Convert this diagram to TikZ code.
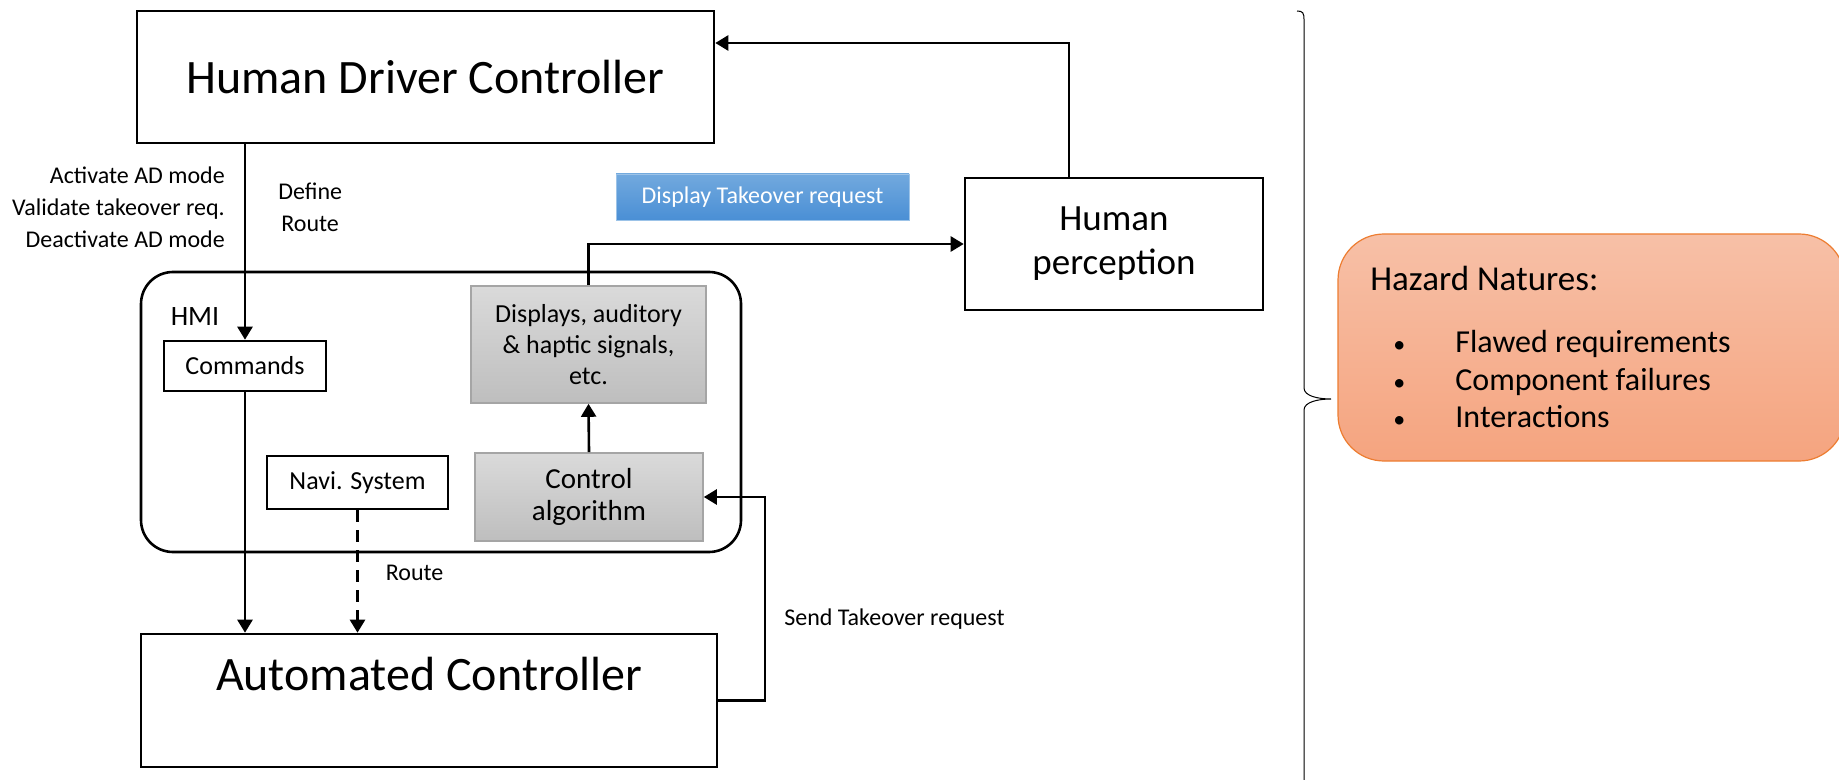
\documentclass[tikz,border=0pt]{standalone}
\usepackage{fontspec}
\setmainfont{Carlito}
\usetikzlibrary{arrows.meta,positioning}
\definecolor{c0}{HTML}{DADADA}
\definecolor{c1}{HTML}{BEBEBE}
\definecolor{c2}{HTML}{A5A5A5}
\definecolor{c3}{HTML}{72A9DE}
\definecolor{c4}{HTML}{4A8FD5}
\definecolor{c5}{HTML}{F7C0A7}
\definecolor{c6}{HTML}{F5A47F}
\definecolor{c7}{HTML}{ED7D31}
\newcommand\hzbul{\makebox[31pt][l]{\fontsize{12}{14}\selectfont\textbullet}}
\tikzset{%
  blk/.style={draw,line width=1.3pt,fill=white,inner sep=0pt,align=center},
  gry/.style={draw=c2,line width=0.8pt,top color=c0,bottom color=c1,inner sep=0pt,align=center},
  flow/.style={line width=1.3pt,-{Triangle[length=6.5pt,width=7.5pt]}},
  lbl/.style={inner sep=0pt,font=\fontsize{12}{16}\selectfont},
  hzt/.style={inner sep=0pt,font=\fontsize{16}{19}\selectfont}
}
\begin{document}
\begin{tikzpicture}[x=0.5pt,y=-0.5pt]
  \path[use as bounding box] (0,0) rectangle (1839,780);
  \clip (0,0) rectangle (1839,780);
  %
  \node[blk,minimum width=288.5pt,minimum height=66pt,font=\fontsize{24}{29}\selectfont] (hdc) at (425.5,77) {Human Driver Controller};
  \node[blk,minimum width=149pt,minimum height=66pt,font=\fontsize{18.5}{22}\selectfont] (hp) at (1114,244) {Human\\perception};
  %% HMI
  \node[blk,rounded corners=16pt,minimum width=300pt,minimum height=140pt] (hmi) at (441,412) {};
  \node[inner sep=0pt,font=\fontsize{14}{17}\selectfont] (hmilbl) at (195,317) {HMI};
  \node[blk,minimum width=81pt,minimum height=25pt,font=\fontsize{13}{16}\selectfont] (cmd) at (245,366) {Commands};
  \node[blk,minimum width=90.5pt,minimum height=26.5pt,font=\fontsize{13}{16}\selectfont] (navi) at (357.5,482.5) {Navi. System};
  \node[gry,minimum width=117.5pt,minimum height=58.5pt,font=\fontsize{13}{15.5}\selectfont] (disp) at (588.5,344.5) {Displays, auditory\\\& haptic signals,\\etc.};
  \node[gry,minimum width=114pt,minimum height=44pt,font=\fontsize{14.5}{16}\selectfont] (ctrl) at (589,497) {Control\\algorithm};
  %% Automated controller
  \node[blk,minimum width=288pt,minimum height=66.5pt] (ac) at (429,700.5) {};
  \node[inner sep=0pt,font=\fontsize{24}{29}\selectfont] (actxt) at (429,674) {Automated Controller};
  %
  \node[draw=c3!70!white,line width=0.4pt,top color=c3,bottom color=c4,text=white,minimum width=146.5pt,minimum height=23pt,inner sep=0pt,font=\fontsize{12}{14}\selectfont] (dtr) at (762.5,197) {Display Takeover request};
  %% Connectors
  \coordinate (fb) at (1069,43);
  \coordinate (st) at (765,0);
  \draw[flow] (hdc.south -| cmd.north) -- node[lbl,pos=.32,left=9.5pt,align=right] (modes) {Activate AD mode\\Validate takeover req.\\Deactivate AD mode} node[lbl,pos=.32,right=16pt,align=center] (defrt) {Define\\Route} (cmd.north);
  \draw[flow] (cmd.south) -- (cmd.south |- ac.north);
  \draw[flow,dash pattern=on 6pt off 4pt] (navi.south) -- node[lbl,pos=.51,right=13.5pt] (route) {Route} (navi.south |- ac.north);
  \draw[flow] (ctrl.north) -- (disp.south);
  \draw[flow] (disp.north) |- (hp.west);
  \draw[flow] (hp.north -| fb) -- (fb) -- (fb -| hdc.east);
  \draw[flow] (ac.east) -- (ac.east -| st) |- node[lbl,pos=.2,right=9pt] (str) {Send Takeover request} (ctrl.east);
  %% Hazards
  \draw[line width=0.5pt] (1297,11) .. controls (1303,11) and (1304,13) .. (1304,20) -- (1304,388)
    .. controls (1304,396) and (1318,399) .. (1331,399) .. controls (1318,399) and (1304,402) .. (1304,410) -- (1304,790);
  \node[draw=c7,line width=0.6pt,rounded corners=23pt,top color=c5,bottom color=c6,minimum width=253.5pt,minimum height=113.5pt] (haz) at (1591.5,347.5) {};
  \node[hzt,anchor=base west,font=\fontsize{17.5}{20}\selectfont] (hztitle) at (1370,291) {Hazard Natures:};
  \node[hzt,anchor=base west] (hz1) at (1393,352) {\hzbul Flawed requirements};
  \node[hzt,anchor=base west] (hz2) at (1393,390) {\hzbul Component failures};
  \node[hzt,anchor=base west] (hz3) at (1393,427) {\hzbul Interactions};
\end{tikzpicture}
\end{document}
